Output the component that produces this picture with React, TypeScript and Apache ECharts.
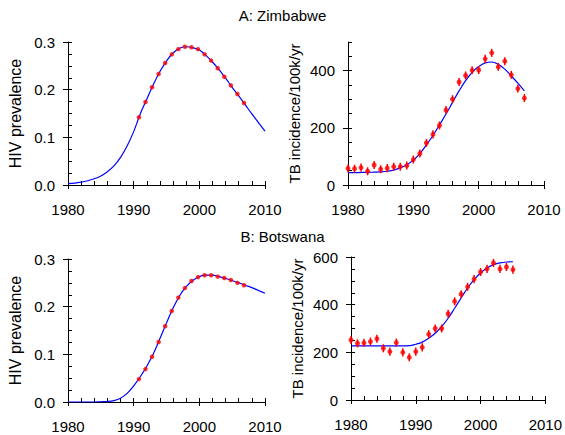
import React, { useEffect, useRef } from "react";
import * as echarts from "echarts";

const FONT = "'Liberation Sans', Arial, sans-serif";

// Titles
const titleA = "A: Zimbabwe";
const titleB = "B: Botswana";

// Years for model curves
const curveYearsLong = [1980, 1981, 1982, 1983, 1984, 1985, 1986, 1987, 1988, 1989, 1990, 1991, 1992, 1993, 1994, 1995, 1996, 1997, 1998, 1999, 2000, 2001, 2002, 2003, 2004, 2005, 2006, 2007, 2008, 2009, 2010];

// HIV prevalence observations (plotted at these x positions)
const hivObsYears = [1990.8, 1991.8, 1992.8, 1993.8, 1994.8, 1995.8, 1996.8, 1997.8, 1998.8, 1999.8, 2000.8, 2001.8, 2002.8, 2003.8, 2004.8, 2005.8, 2006.8];

// Zimbabwe HIV
const hivZimObs = [0.142, 0.174, 0.205, 0.233, 0.256, 0.274, 0.285, 0.290, 0.289, 0.285, 0.274, 0.261, 0.245, 0.227, 0.209, 0.191, 0.172];
const hivZimCurve = [0.003, 0.004, 0.006, 0.009, 0.013, 0.019, 0.028, 0.040, 0.058, 0.082, 0.112, 0.149, 0.180, 0.211, 0.238, 0.260, 0.277, 0.287, 0.290, 0.288, 0.283, 0.272, 0.258, 0.242, 0.224, 0.205, 0.187, 0.168, 0.149, 0.131, 0.113];

// Zimbabwe TB
const tbZimYears = [1980, 1981, 1982, 1983, 1984, 1985, 1986, 1987, 1988, 1989, 1990, 1991, 1992, 1993, 1994, 1995, 1996, 1997, 1998, 1999, 2000, 2001, 2002, 2003, 2004, 2005, 2006, 2007];
const tbZimObs = [58, 57, 61, 48, 70, 55, 59, 64, 64, 68, 89, 110, 147, 177, 208, 262, 300, 360, 383, 401, 402, 441, 462, 413, 433, 385, 337, 304];
const tbZimCurve = [43, 43, 44, 44, 45, 46, 48, 52, 60, 71, 87, 110, 140, 173, 210, 248, 289, 329, 365, 394, 414, 427, 430, 422, 405, 381, 356, 329];
const tbZimErr = 14;

// Botswana HIV
const hivBotObs = [0.048, 0.069, 0.095, 0.126, 0.159, 0.191, 0.219, 0.239, 0.254, 0.262, 0.266, 0.266, 0.263, 0.260, 0.256, 0.250, 0.245];
const hivBotCurve = [0.0, 0.0, 0.0, 0.0, 0.0, 0.0005, 0.001, 0.003, 0.008, 0.018, 0.034, 0.053, 0.075, 0.101, 0.133, 0.166, 0.197, 0.223, 0.242, 0.255, 0.263, 0.266, 0.266, 0.263, 0.259, 0.255, 0.250, 0.245, 0.240, 0.234, 0.228];

// Botswana TB
const tbBotYears = [1980, 1981, 1982, 1983, 1984, 1985, 1986, 1987, 1988, 1989, 1990, 1991, 1992, 1993, 1994, 1995, 1996, 1997, 1998, 1999, 2000, 2001, 2002, 2003, 2004, 2005];
const tbBotObs = [252, 238, 240, 245, 257, 217, 203, 241, 200, 179, 203, 221, 276, 300, 300, 362, 414, 444, 475, 507, 537, 550, 575, 550, 558, 547];
const tbBotCurve = [227, 227, 227, 227, 227, 227, 227, 227, 227, 228, 234, 243, 259, 280, 308, 343, 385, 428, 470, 505, 533, 554, 568, 575, 579, 580];
const tbBotErr = 17;

// Axis ticks
const xTickLabels = [1980, 1990, 2000, 2010];
const hivTicks = [0, 0.1, 0.2, 0.3];
const tbZimTicks = [0, 200, 400];
const tbBotTicks = [0, 200, 400, 600];

const RED = "#ff0000";
const BLUE = "#0000ff";

function zip(xs: number[], ys: number[]) {
  return ys.map((y, i) => [xs[i], y]);
}

export default function App() {
  const ref = useRef<HTMLDivElement>(null);
  useEffect(() => {
    if (!ref.current) return;
    const chart = echarts.init(ref.current, null, { renderer: "svg" });

    const grids = [
      { left: 68, top: 42, width: 197, height: 143 },
      { left: 348, top: 42, width: 196, height: 143 },
      { left: 68, top: 259, width: 197, height: 143 },
      { left: 351, top: 257, width: 197, height: 143 },
    ];

    const xAxes: any[] = [];
    const yAxes: any[] = [];
    const lbl = { fontSize: 15, color: "#000", fontFamily: FONT };

    function addX(gi: number) {
      const base = {
        type: "value",
        gridIndex: gi,
        min: 1980,
        max: 2010,
        interval: 10,
        position: "bottom",
        splitLine: { show: false },
      };
      xAxes.push({
        ...base,
        axisLine: { show: true, lineStyle: { color: "#000", width: 1 } },
        axisTick: { show: true, inside: true, length: 4, lineStyle: { color: "#000" } },
        minorTick: { show: true, splitNumber: 5, length: 4, lineStyle: { color: "#000" } },
        axisLabel: { ...lbl, margin: 17, formatter: (v: number) => (xTickLabels.includes(v) ? String(v) : "") },
      });
      const idx = xAxes.length - 1;
      xAxes.push({
        ...base,
        axisLine: { show: false },
        axisTick: { show: true, inside: false, length: 4, lineStyle: { color: "#000" } },
        axisLabel: { show: false },
      });
      return idx;
    }

    function addY(gi: number, max: number, interval: number, minorSplit: number, ticks: number[], fmt: (v: number) => string, name: string, nameSize: number, nameGap: number) {
      const base = {
        type: "value",
        gridIndex: gi,
        min: 0,
        max,
        interval,
        position: "left",
        splitLine: { show: false },
      };
      yAxes.push({
        ...base,
        name,
        nameLocation: "middle",
        nameGap,
        nameTextStyle: { fontSize: nameSize, color: "#000", fontFamily: FONT },
        axisLine: { show: true, lineStyle: { color: "#000", width: 1 } },
        axisTick: { show: true, inside: true, length: 4, lineStyle: { color: "#000" } },
        minorTick: { show: true, splitNumber: minorSplit, length: 4, lineStyle: { color: "#000" } },
        axisLabel: {
          ...lbl,
          margin: 13,
          formatter: (v: number) => (ticks.some((t) => Math.abs(t - v) < 1e-9) ? fmt(v) : ""),
        },
      });
      const idx = yAxes.length - 1;
      yAxes.push({
        ...base,
        axisLine: { show: false },
        axisTick: { show: true, inside: false, length: 5, lineStyle: { color: "#000" }, customValues: ticks },
        axisLabel: { show: false },
      });
      return idx;
    }

    const hivFmt = (v: number) => v.toFixed(1);
    const intFmt = (v: number) => String(Math.round(v));

    const xA0 = addX(0), xA1 = addX(1), xB0 = addX(2), xB1 = addX(3);
    const yA0 = addY(0, 0.3, 0.1, 4, hivTicks, hivFmt, "HIV prevalence", 16, 45);
    const yA1 = addY(1, 500, 100, 2, tbZimTicks, intFmt, "TB incidence/100k/yr", 15, 46);
    const yB0 = addY(2, 0.3, 0.1, 4, hivTicks, hivFmt, "HIV prevalence", 16, 45);
    const yB1 = addY(3, 600, 200, 4, tbBotTicks, intFmt, "TB incidence/100k/yr", 15, 46);

    const curve = (xi: number, yi: number, data: number[][]) => ({
      type: "line",
      xAxisIndex: xi,
      yAxisIndex: yi,
      data,
      showSymbol: false,
      smooth: 0.4,
      lineStyle: { color: BLUE, width: 1.2 },
      z: 2,
    });
    const points = (xi: number, yi: number, data: number[][], size: number) => ({
      type: "scatter",
      xAxisIndex: xi,
      yAxisIndex: yi,
      data,
      symbol: "circle",
      symbolSize: size,
      itemStyle: { color: RED },
      z: 4,
    });
    const errBars = (xi: number, yi: number, xs: number[], ys: number[], err: number) => ({
      type: "custom",
      xAxisIndex: xi,
      yAxisIndex: yi,
      data: ys.map((y, i) => [xs[i], y, err]),
      encode: { x: 0, y: 1 },
      z: 3,
      renderItem: (_p: any, api: any) => {
        const x = api.value(0);
        const y = api.value(1);
        const e = api.value(2);
        const p1 = api.coord([x, y - e]);
        const p2 = api.coord([x, y + e]);
        return {
          type: "line",
          shape: { x1: p1[0], y1: p1[1], x2: p2[0], y2: p2[1] },
          style: { stroke: RED, lineWidth: 1.5 },
        };
      },
    });

    chart.setOption({
      animation: false,
      backgroundColor: "#fff",
      textStyle: { fontFamily: FONT },
      title: [
        { text: titleA, left: "center", top: 8, padding: 0, textStyle: { fontSize: 15, fontWeight: "normal", color: "#000", fontFamily: FONT } },
        { text: titleB, left: "center", top: 229, padding: 0, textStyle: { fontSize: 15, fontWeight: "normal", color: "#000", fontFamily: FONT } },
      ],
      grid: grids,
      xAxis: xAxes,
      yAxis: yAxes,
      series: [
        curve(xA0, yA0, zip(curveYearsLong, hivZimCurve)),
        points(xA0, yA0, zip(hivObsYears, hivZimObs), 4.5),
        curve(xA1, yA1, zip(tbZimYears, tbZimCurve)),
        errBars(xA1, yA1, tbZimYears, tbZimObs, tbZimErr),
        points(xA1, yA1, zip(tbZimYears, tbZimObs), 5),
        curve(xB0, yB0, zip(curveYearsLong, hivBotCurve)),
        points(xB0, yB0, zip(hivObsYears, hivBotObs), 4.5),
        curve(xB1, yB1, zip(tbBotYears, tbBotCurve)),
        errBars(xB1, yB1, tbBotYears, tbBotObs, tbBotErr),
        points(xB1, yB1, zip(tbBotYears, tbBotObs), 5),
      ],
    });
    return () => chart.dispose();
  }, []);
  return <div ref={ref} style={{ position: "fixed", left: 0, top: 0, width: 565, height: 435 }} />;
}
